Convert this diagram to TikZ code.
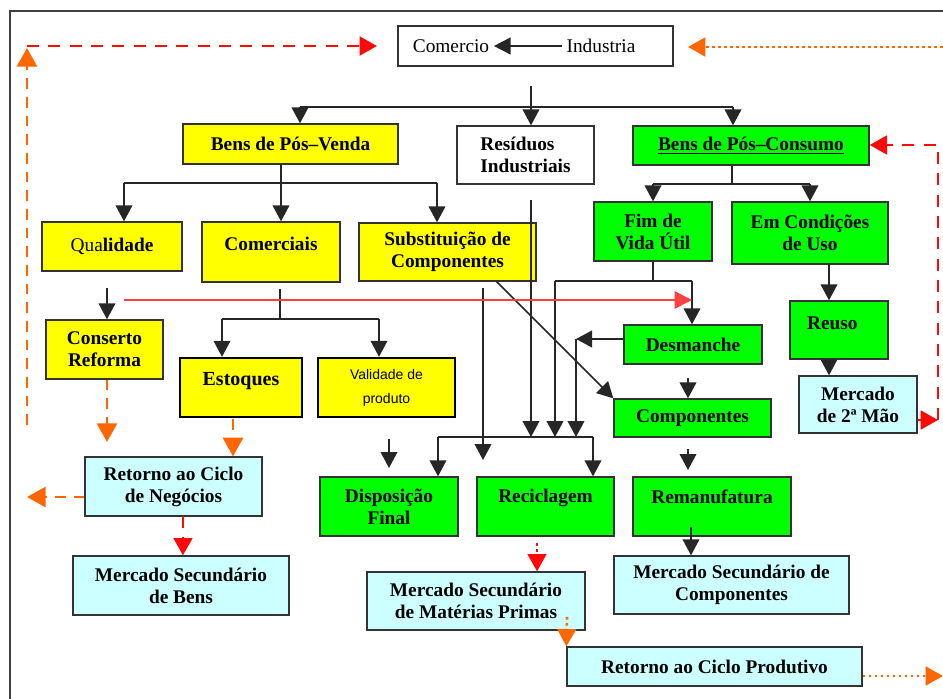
\documentclass[tikz,border=0pt]{standalone}
\usepackage{fontspec}
\setmainfont{Liberation Serif}
\newfontfamily\valfont{Liberation Sans}
\usetikzlibrary{arrows.meta}

\definecolor{boxyellow}{RGB}{255,255,0}
\definecolor{boxgreen}{RGB}{0,255,0}
\definecolor{boxcyan}{RGB}{204,255,255}
\definecolor{loopred}{RGB}{255,8,8}
\definecolor{looporange}{RGB}{255,102,0}
\newcommand{\lift}[2]{\raisebox{#1}[\height][\depth]{#2}}

\begin{document}
\begin{tikzpicture}[x=0.75pt,y=0.75pt,yscale=-1,xscale=1,
  wh/.style 2 args={minimum width=#1pt,minimum height=#2pt},
  box/.style={draw=black!80,line width=1pt,inner sep=0pt,align=center,font=\fontsize{14.5}{16.5}\selectfont\bfseries},
  yel/.style={box,fill=boxyellow},
  grn/.style={box,fill=boxgreen},
  cyn/.style={box,fill=boxcyan},
  ln/.style={draw=black!85,line width=1.3pt},
  arr/.style={ln,-{Triangle[width=12.5pt,length=12pt]}},
  rdash/.style={draw=loopred,line width=2.2pt,dash pattern=on 9pt off 7pt,-{Triangle[width=14pt,length=13pt]}},
  odash/.style={draw=looporange,line width=2.2pt,dash pattern=on 8pt off 6pt,-{Triangle[width=15pt,length=14pt]}},
  rdot/.style={draw=loopred,line width=2pt,dash pattern=on 2pt off 2.5pt,-{Triangle[width=14pt,length=13pt]}},
  odot/.style={draw=looporange,line width=2pt,dash pattern=on 2pt off 2.5pt,-{Triangle[width=14pt,length=13pt]}},
  redln/.style={draw=red!75,line width=1.3pt,-{Triangle[width=13pt,length=13pt]}}]
\useasboundingbox (0,0) rectangle (943,699);

%Frame
\draw [draw=black!75,line width=1.1pt] (943,11) -- (10,11) -- (10,699) ;

%Rectangle: Comercio / Industria
\node [box,wh={206.25}{30},fill=white] (ci) at (535.5,46) {};
\node [font=\fontsize{14.5}{16.5}\selectfont] (comercio) at (451,46) {Comercio};
\node [font=\fontsize{14.5}{16.5}\selectfont] (industria) at (601,46) {Industria};
\draw [ln,-{Triangle[width=12.5pt,length=12.5pt]}] (industria) -- (comercio) ;

%Rectangles: first level
\node [yel,wh={161.25}{30}] (bpv) at (290.5,144) {Bens de Pós–Venda};
\node [box,wh={102.75}{43.5},fill=white,align=left] (ri) at (525.5,155) {Resíduos\\Industriais};
\node [grn,wh={177}{29.25}] (bpc) at (751,145.5) {\underline{Bens de Pós–Consumo}};

%Rectangles: Pos-Venda
\node [yel,wh={105}{36.75}] (qual) at (112,246.5) {{\mdseries Qua}lidade};
\node [yel,wh={103.5}{45}] (com) at (271,252) {\lift{6pt}{Comerciais}};
\node [yel,wh={132.75}{43.5}] (sub) at (447.5,252) {Substituição de\\Componentes};
\node [yel,wh={87.75}{44.25}] (cons) at (104.5,349.5) {Conserto\\Reforma};
\node [yel,wh={91.5}{44.25},draw=black,line width=1.8pt,font=\fontsize{15}{17}\selectfont\bfseries] (est) at (241,387.5) {\lift{4.5pt}{Estoques}};
\node [yel,wh={102.75}{44.25},draw=black,line width=1.8pt,font=\valfont\fontsize{10.5}{18}\selectfont] (val) at (386.5,387.5) {Validade de\\produto};

%Rectangles: Pos-Consumo
\node [grn,wh={88.5}{44.25}] (fim) at (653,231.5) {Fim de\\Vida Útil};
\node [grn,wh={117}{46.5}] (emc) at (810,233) {Em Condições\\de Uso};
\node [grn,wh={73.5}{43.5}] (reu) at (839,330) {\lift{5pt}{Reuso\kern10pt}};
\node [cyn,wh={88.5}{42.75}] (m2) at (858,404.5) {Mercado\\de 2ª Mão};
\node [grn,wh={103.5}{29.25}] (des) at (693,344.5) {Desmanche};
\node [grn,wh={117.75}{28.5}] (comp) at (692.5,418) {Componentes};
\node [grn,wh={103.5}{44.25}] (dis) at (389,506.5) {Disposição\\Final};
\node [grn,wh={102.75}{44.25}] (rec) at (545.5,506.5) {\lift{6.4pt}{Reciclagem}};
\node [grn,wh={118.5}{44.25}] (rem) at (712,506.5) {\lift{7pt}{Remanufatura}};

%Rectangles: mercados
\node [cyn,wh={132.75}{44.25}] (rcn) at (173.5,486.5) {Retorno ao Ciclo\\de Negócios};
\node [cyn,wh={162}{44.25}] (msb) at (181,585.5) {Mercado Secundário\\de Bens};
\node [cyn,wh={163.5}{43.5}] (msm) at (476,601) {Mercado Secundário\\de Matérias Primas};
\node [cyn,wh={176.25}{43.5}] (msc) at (731.5,585) {Mercado Secundário de\\Componentes};
\node [cyn,wh={221.25}{29.25}] (rcp) at (714.5,666.5) {Retorno ao Ciclo Produtivo};

%Free ends of connectors
\coordinate (cistub) at (531,86);
\coordinate (topL) at (300,107);
\coordinate (topR) at (733,107);
\coordinate (pvL) at (124,183);
\coordinate (pvM) at (281,183);
\coordinate (pvR) at (437,183);
\coordinate (pcL) at (653,184);
\coordinate (pcM) at (732,184);
\coordinate (pcR) at (810,184);
\coordinate (useL) at (829,264);
\coordinate (rloopT) at (938,145);
\coordinate (rloopB) at (938,420);
\coordinate (fvL) at (555,281);
\coordinate (fvM) at (653,281);
\coordinate (fvR) at (692,281);
\coordinate (redS) at (124,300);
\coordinate (dmx) at (576,339);
\coordinate (dcstub) at (688,378);
\coordinate (subd) at (496,281);
\coordinate (subv) at (483,288);
\coordinate (subvE) at (483,460);
\coordinate (ristub) at (531,200);
\coordinate (colL) at (438,437);
\coordinate (colR) at (593,437);
\coordinate (disA) at (389,439);
\coordinate (disB) at (389,468);
\coordinate (remA) at (688,449);
\coordinate (remB) at (688,470);
\coordinate (remstub) at (691,527);
\coordinate (cmtop) at (280,289);
\coordinate (cmL) at (222,319);
\coordinate (cmM) at (280,319);
\coordinate (cmR) at (379,319);
\coordinate (qtop) at (107,288);
\coordinate (ocE) at (107,442);
\coordinate (oe) at (233,419);
\coordinate (oleft) at (27,497);
\coordinate (rb) at (183,516);
\coordinate (lvB) at (27,425);
\coordinate (lvT) at (27,48);
\coordinate (trS) at (27,46);
\coordinate (trE) at (377,46);
\coordinate (toS) at (943,47);
\coordinate (toE) at (688,47);
\coordinate (rcA) at (537,543);
\coordinate (mpA) at (567,617);
\coordinate (rpE) at (943,676);

%Lines: from Comercio / Industria
\draw [ln] (cistub) -- (cistub |- topL) ;
\draw [ln] (topL) -- (topR) ;
\draw [arr] (topL) -- (topL |- bpv.north) ;
\draw [arr] (cistub |- topL) -- (cistub |- ri.north) ;
\draw [arr] (topR) -- (topR |- bpc.north) ;

%Lines: Pos-Venda
\draw [ln] (pvM |- bpv.south) -- (pvM) ;
\draw [ln] (pvL) -- (pvR) ;
\draw [arr] (pvL) -- (pvL |- qual.north) ;
\draw [arr] (pvM) -- (pvM |- com.north) ;
\draw [arr] (pvR) -- (pvR |- sub.north) ;
\draw [arr] (qtop) -- (qtop |- cons.north) ;
\draw [ln] (cmtop) -- (cmM) ;
\draw [ln] (cmL) -- (cmR) ;
\draw [arr] (cmL) -- (cmL |- est.north) ;
\draw [arr] (cmR) -- (cmR |- val.north) ;

%Lines: Pos-Consumo
\draw [ln] (pcM |- bpc.south) -- (pcM) ;
\draw [ln] (pcL) -- (pcR) ;
\draw [arr] (pcL) -- (pcL |- fim.north) ;
\draw [arr] (pcR) -- (pcR |- emc.north) ;
\draw [arr] (useL) -- (useL |- reu.north) ;
\draw [arr] (useL |- reu.south) -- (useL |- m2.north) ;
\draw [ln] (fvM |- fim.south) -- (fvM) ;
\draw [ln] (fvL) -- (fvR) ;
\draw [arr] (fvR) -- (fvR |- des.north) ;
\draw [arr] (fvL) -- (fvL |- colL) ;
\draw [arr] (des.west |- dmx) -- (dmx) ;
\draw [arr] (dmx) -- (dmx |- colL) ;
\draw [arr] (dcstub) -- (dcstub |- comp.north) ;
\draw [arr] (subd) -- (comp.north west) ;
\draw [arr] (subv) -- (subvE) ;
\draw [arr] (ristub) -- (ristub |- colL) ;
\draw [ln] (colL) -- (colR) ;
\draw [arr] (colL) -- (colL |- dis.north) ;
\draw [arr] (colR) -- (colR |- rec.north) ;
\draw [arr] (disA) -- (disB) ;
\draw [arr] (remA) -- (remB) ;
\draw [arr] (remstub) -- (remstub |- msc.north) ;

%Red line
\draw [redln] (redS) -- (redS -| fvR) ;

%Loops
\draw [rdash] (rloopB) -- (rloopT) -- (rloopT -| bpc.east) ;
\draw [rdash] (rloopB -| m2.east) -- (rloopB) ;
\draw [odash] (lvB) -- (lvT) ;
\draw [rdash] (trS) -- (trE) ;
\draw [odot] (toS) -- (toE) ;
\draw [odash] (cons.south -| qtop) -- (ocE) ;
\draw [odash] (oe) -- (oe |- rcn.north) ;
\draw [odash] (rcn.west |- oleft) -- (oleft) ;
\draw [rdash] (rb) -- (rb |- msb.north) ;
\draw [rdot] (rcA) -- (rcA |- msm.north) ;
\draw [odot] (mpA) -- (rcp.north west) ;
\draw [odot] (rcp.east |- rpE) -- (rpE) ;

\end{tikzpicture}
\end{document}
